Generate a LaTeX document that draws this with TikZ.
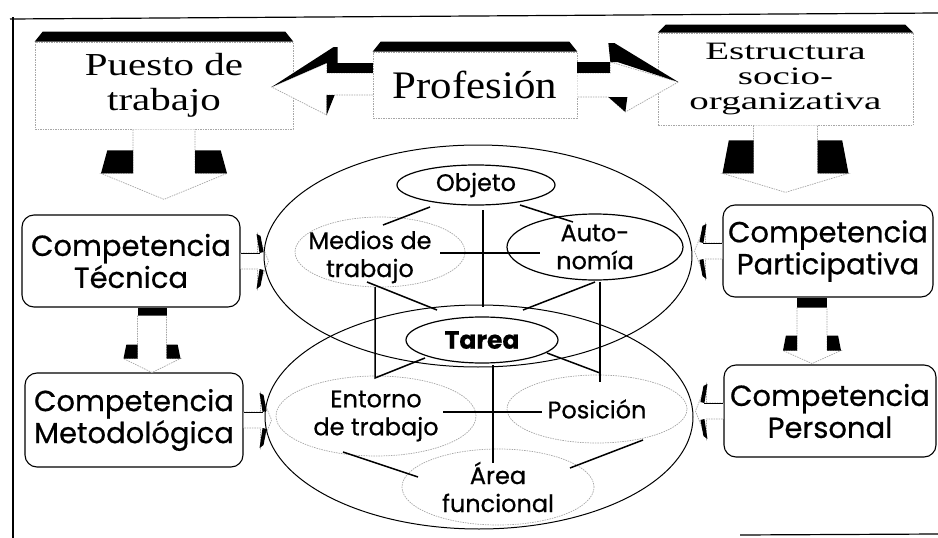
\documentclass[tikz,border=0pt]{standalone}
\usepackage{fontspec}
\usepackage{graphicx}
\setmainfont{Liberation Serif}
\newfontfamily\comic[FakeBold=0.6]{Poppins}
\usetikzlibrary{shapes.geometric,calc}

\tikzset{
  faint/.style={draw=gray!70, line width=0.7pt, dash pattern=on 1.5pt off 1pt},
  block/.style={faint, fill=white, inner sep=0pt},
  comp/.style={draw, line width=1.1pt, rounded corners=12pt, inner sep=0pt, align=center,
    font=\comic\fontsize{29}{32}\selectfont},
  txt/.style={inner sep=0pt, align=center, font=\comic\fontsize{24}{28}\selectfont},
  solidb/.style={ellipse, draw, line width=1.2pt, inner sep=0pt},
  dottedb/.style={ellipse, faint, inner sep=0pt},
  link/.style={line width=1.5pt},
}

\newcommand{\header}[2]{%
  \fill ($(#1.north west)+(8,-#2)$) -- ($(#1.north east)+(-8,-#2)$)
    -- (#1.north east) -- (#1.north west) -- cycle;}

\newcommand{\blockdown}[7]{%
  \begin{scope}[shift={#1}]
    \fill (-#2,0) rectangle (#2,#3);
    \draw[faint,fill=white] (-#2,#3) -- (-#2,#5) -- (-#6,#5) -- (0,#7) -- (#6,#5) -- (#2,#5) -- (#2,#3);
    \fill (-#6*0.9,#4) -- (-#2,#4) -- (-#2,#5) -- (-#6,#5) -- cycle;
    \fill (#6*0.9,#4) -- (#2,#4) -- (#2,#5) -- (#6,#5) -- cycle;
  \end{scope}}

\newcommand{\sidearrow}[2]{%
  \begin{scope}[shift={#1},xscale=#2]
    \draw[faint,fill=white] (0,-8) -- (17,-8) -- (17,-27) -- (28,0) -- (17,28) -- (17,8) -- (0,8);
    \fill (16,-27) -- (20,-25) -- (23,-9) -- (19,-8) -- cycle;
    \fill (16,28) -- (20,25) -- (23,9) -- (19,8) -- cycle;
    \draw[line width=1pt] (0,-8) -- (19,-8);
  \end{scope}}

\begin{document}
\begin{tikzpicture}[x=1pt,y=-1pt]
  \useasboundingbox (0,0) rectangle (938,538);

  \draw[line width=1.2pt] (10,19) -- (938,13);
  \draw[line width=1.2pt] (13,17) -- (13,538);
  \draw[line width=1.2pt] (740,535) -- (938,534);

  % top row
  \node[block, minimum width=258pt, minimum height=87pt] (puesto) at (164,85.5)
    {\fontsize{32}{35}\selectfont\scalebox{1.28}[1]{\begin{tabular}{@{}c@{}}Puesto de\\trabajo\end{tabular}}};
  \node[block, minimum width=204pt, minimum height=66pt] (prof) at (475,85)
    {\fontsize{39}{42}\selectfont\scalebox{1.1}[1]{Profesión}};
  \node[block, minimum width=255pt, minimum height=92pt] (estr) at (785.5,79)
    {\fontsize{25}{25}\selectfont\scalebox{1.56}[1]{\begin{tabular}{@{}c@{}}Estructura\\socio-\\organizativa\end{tabular}}};
  \header{puesto}{10}
  \header{prof}{10}
  \header{estr}{8}

  \begin{scope}[shift={(prof.west)}]
    \draw[faint,fill=white] (0,-12) -- (-46,-12) -- (-46,-22) -- (-101,2) -- (-46,30) -- (-46,10) -- (0,10);
    \fill (-101,2) -- (-39,-38) -- (-35,-38) -- (-35,-22) -- (-46,-22) -- cycle;
    \fill (-46,-22) rectangle (0,-12);
    \fill (-46,10) -- (-38,10) -- (-46,30) -- cycle;
  \end{scope}
  \begin{scope}[shift={(prof.east)}]
    \draw[faint,fill=white] (0,-12) -- (33,-12) -- (33,-23) -- (101,-3) -- (48,27) -- (31,12) -- (0,12);
    \fill (31,-42) -- (37,-42) -- (101,-3) -- (40,-23) -- (33,-23) -- cycle;
    \fill (0,-23) rectangle (33,-12);
    \fill (31,12) -- (50,12) -- (48,27) -- cycle;
  \end{scope}

  % competencias
  \node[comp, minimum width=218pt, minimum height=92pt] (tec) at (131,261) {Competencia\\Técnica};
  \node[comp, minimum width=218pt, minimum height=94pt] (met) at (134,420) {Competencia\\Metodológica};
  \node[comp, minimum width=210pt, minimum height=92pt] (par) at (828,251) {Competencia\\Participativa};
  \node[comp, minimum width=212pt, minimum height=92pt] (per) at (830,411) {Competencia\\Personal};

  \blockdown{(puesto.south)}{31}{0}{21}{44}{63}{70}
  \blockdown{(estr.south)}{32}{0}{15}{48}{63}{67}
  \blockdown{($(tec.south)+(21,0)$)}{14.5}{8}{37}{51}{28.5}{65}
  \blockdown{($(par.south)+(-16,0)$)}{15}{10}{38}{53}{29}{66}

  \sidearrow{(tec.east)}{1}
  \sidearrow{(met.east)}{1}
  \sidearrow{(par.west)}{-1}
  \sidearrow{(per.west)}{-1}

  % tarea
  \draw[line width=1pt] (478,256) ellipse [x radius=214pt, y radius=111pt];
  \draw[line width=1pt] (479,417) ellipse [x radius=214pt, y radius=112pt];

  \node[solidb, minimum width=158pt, minimum height=40pt, label={[txt]center:Objeto}] (obj) at (476,185) {};
  \node[dottedb, minimum width=170pt, minimum height=70pt,
    label={[txt,xshift=-10pt,yshift=-5pt]center:{Medios de\\trabajo}}] (med) at (380,252) {};
  \node[solidb, minimum width=176pt, minimum height=66pt, label={[txt]center:{Auto-\\nomía}}] (auto) at (595,247) {};
  \node[solidb, minimum width=152pt, minimum height=46pt,
    label={[txt,font=\comic\bfseries\fontsize{25}{28}\selectfont]center:Tarea}] (tarea) at (482,340) {};
  \node[dottedb, minimum width=200pt, minimum height=80pt, label={[txt]center:{Entorno\\de trabajo}}] (ent) at (376,416) {};
  \node[dottedb, minimum width=180pt, minimum height=68pt, label={[txt]center:Posición}] (pos) at (597,409) {};
  \node[dottedb, minimum width=192pt, minimum height=76pt, label={[txt]center:{Área\\funcional}}] (area) at (498,487) {};

  \draw[link] ($(obj)+(-46,22)$) -- ($(med)+(3,-27)$);
  \draw[link] ($(obj)+(44,20)$) -- ($(auto)+(-22,-25)$);
  \draw[link] ($(obj)+(7,25)$) -- ($(tarea)+(1,-33)$);
  \draw[link] ($(med)+(60,1)$) -- ($(auto)+(-55,6)$);
  \draw[link] ($(med)+(-13,30)$) -- ($(tarea)+(-45,-30)$);
  \draw[link] ($(auto)+(0,35)$) -- ($(tarea)+(41,-30)$);
  \draw[link] ($(med)+(-5,35)$) -- ($(ent)+(-1,-38)$) -- ($(tarea)+(-57,18)$);
  \draw[link] ($(auto)+(5,35)$) -- ($(pos)+(3,-27)$);
  \draw[link] ($(tarea)+(65,13)$) -- ($(pos)+(3,-36)$);
  \draw[link] ($(tarea)+(11,25)$) -- ($(area)+(-5,-24)$);
  \draw[link] ($(ent)+(67,-4)$) -- ($(pos)+(-55,3)$);
  \draw[link] ($(ent)+(-33,36)$) -- ($(area)+(-80,-10)$);
  \draw[link] ($(pos)+(46,31)$) -- ($(area)+(72,-19)$);
\end{tikzpicture}
\end{document}
